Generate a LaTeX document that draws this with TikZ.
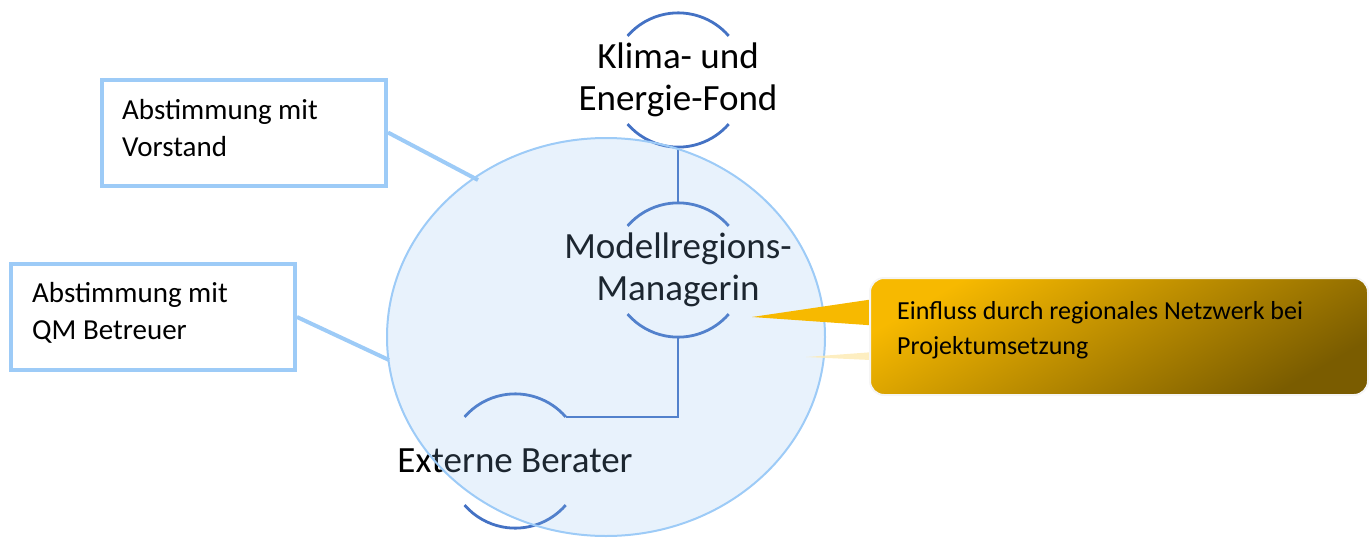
\documentclass[tikz,border=0pt]{standalone}
\usepackage{fontspec}
\setmainfont{Carlito}
\usetikzlibrary{shapes.geometric}
\definecolor{arcblue}{HTML}{4472C4}
\definecolor{lightb}{HTML}{9DCBF7}
\definecolor{fillb}{RGB}{140,190,240}
\definecolor{gold}{HTML}{F7B900}
\definecolor{darkgold}{HTML}{7A5C00}
\pgfdeclarelayer{fg}
\pgfsetlayers{main,fg}
\begin{document}
\begin{tikzpicture}[x=1pt,y=1pt,
  ring/.style={circle, minimum size=134pt, inner sep=0pt},
  hubtext/.style={align=center, inner sep=0pt, font=\fontsize{37}{42}\selectfont},
  arcline/.style={draw=arcblue, line width=2.8pt},
  notebox/.style={draw=lightb, line width=4pt, fill=white, minimum width=284pt, minimum height=106pt, inner sep=0pt},
  notetext/.style={anchor=west, inner sep=0pt, align=left, font=\fontsize{29}{37}\selectfont},
  link/.style={draw=lightb, line width=4pt}]
\useasboundingbox (0,0) rectangle (1371,-541);

% left notes
\node[notebox] (vorstand) at (244,-132.5) {};
\node[notetext] (vorstandlbl) at (122,-128.5) {Abstimmung mit\\Vorstand};
\node[notebox] (qm) at (153,-317) {};
\node[notetext] (qmlbl) at (32,-312.5) {Abstimmung mit\\QM Betreuer};
\coordinate (vend) at (478,-180);
\coordinate (qend) at (389,-360);
\draw[link] (vorstand.east) -- (vend);
\draw[link] (qm.east) -- (qend);

% rings
\node[ring] (klima) at (678,-80) {};
\node[ring] (modell) at (678,-270) {};
\node[ring] (extern) at (515,-461) {};
\foreach \r in {klima,modell,extern}{
  \draw[arcline] (\r.41) arc[start angle=41, end angle=139, radius=67pt];
  \draw[arcline] (\r.-41) arc[start angle=-41, end angle=-139, radius=67pt];
}
\node[hubtext] (klimatext) at (klima.center) {Klima- und\\Energie-Fond};
\node[hubtext] (modelltext) at (modell.center) {Modellregions-\\Managerin};
\node[hubtext] (externtext) at (extern.center) {Externe Berater};

\draw[arcline] (klima.south) -- (modell.north);
\draw[arcline] (modell.south) |- (extern.41);

% team ellipse overlay
\node[ellipse, draw=lightb, line width=2pt, fill=fillb, fill opacity=0.2,
  minimum width=438pt, minimum height=398pt, inner sep=0pt] (team) at (606,-337) {};

% callout
\begin{pgfonlayer}{fg}
\node[rounded corners=14pt, draw=white!92!gray, line width=2pt,
  top color=gold, bottom color=darkgold, shading angle=30,
  minimum width=498pt, minimum height=117pt] (infl) at (1119,-336.5) {};
\node[anchor=west, inner sep=0pt, align=left, font=\fontsize{26}{35}\selectfont]
  (infllbl) at (897,-330.5) {Einfluss durch regionales Netzwerk bei\\Projektumsetzung};
\end{pgfonlayer}
\coordinate (tip) at (752,-317);
\coordinate (shtip) at (806,-357);
\fill[gold] (tip) -- ([xshift=12pt,yshift=38.5pt]infl.west) -- ([xshift=12pt,yshift=10.5pt]infl.west) -- cycle;
\fill[gold!30, opacity=0.8] (shtip) -- ([xshift=12pt,yshift=-15pt]infl.west) -- ([xshift=12pt,yshift=-24pt]infl.west) -- cycle;
\end{tikzpicture}
\end{document}
